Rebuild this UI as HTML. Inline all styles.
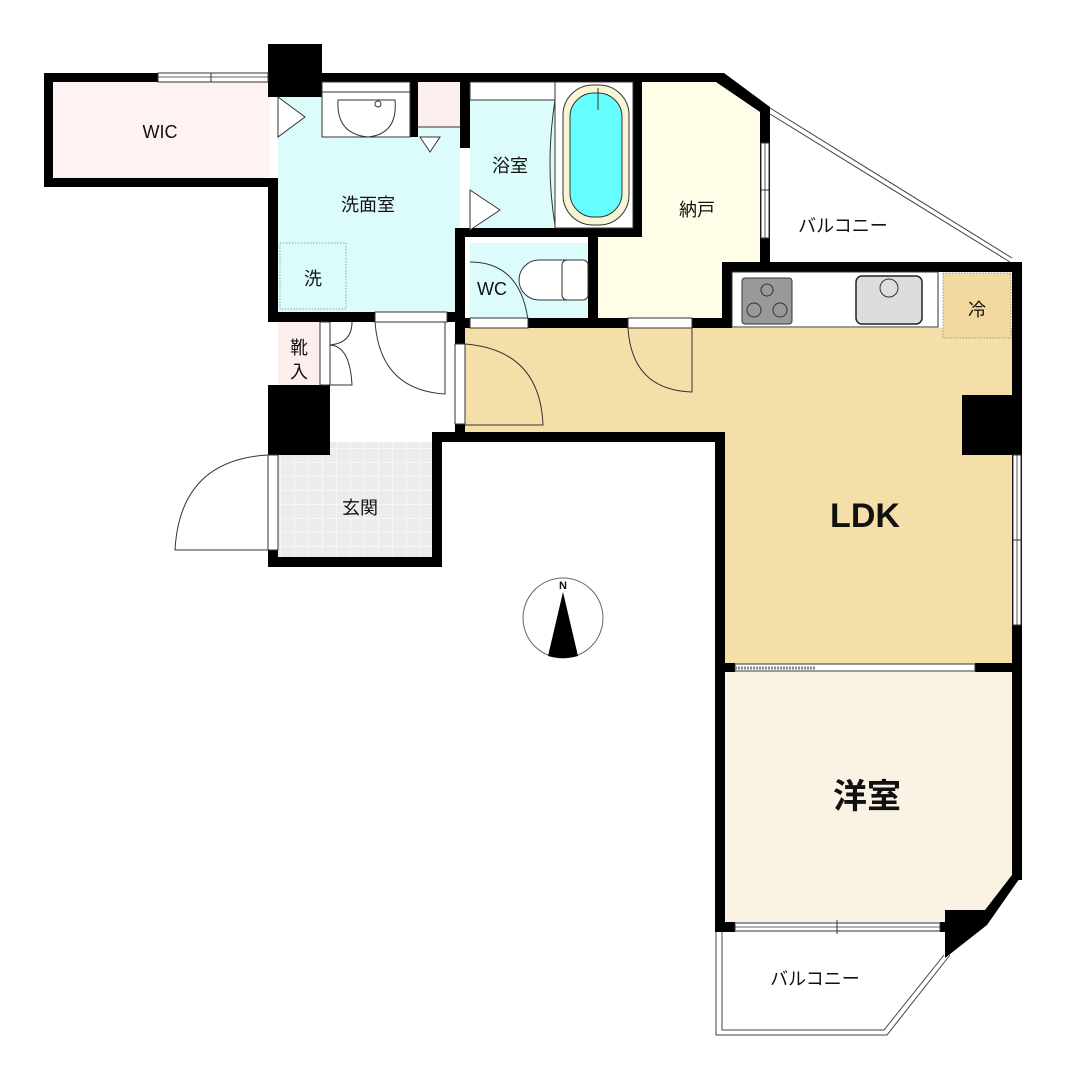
<!DOCTYPE html>
<html><head><meta charset="utf-8"><style>
html,body{margin:0;padding:0;background:#fff}
svg{display:block}
text{font-family:"Liberation Sans","Noto Sans CJK JP",sans-serif;fill:#111}
</style></head><body>
<svg width="1074" height="1083" viewBox="0 0 1074 1083" xmlns="http://www.w3.org/2000/svg">
<defs>
<pattern id="tile" width="14" height="14" patternUnits="userSpaceOnUse">
<rect width="14" height="14" fill="#ececec"/><path d="M0 0H14M0 0V14" stroke="#fff" stroke-width="1"/>
</pattern>
</defs>
<!-- fills -->
<rect x="53" y="82" width="217" height="96" fill="#fff2f2"/>
<rect x="278" y="97" width="182" height="217" fill="#dcfcfc"/>
<rect x="418" y="82" width="42" height="45" fill="#fdeeee"/>
<rect x="470" y="100" width="85" height="130" fill="#dcfcfc"/>
<rect x="470" y="243" width="118" height="77" fill="#dcfcfc"/>
<path d="M642 82H720L760 112V318H598V237H642Z" fill="#fffde8"/>
<path d="M465 328H1012V665H725V432H465Z" fill="#f5dfa8"/>
<path d="M725 672H1012V878L975 922H725Z" fill="#faf3e3"/>
<rect x="278" y="322" width="42" height="63" fill="#fdeeee"/>
<rect x="278" y="442" width="154" height="115" fill="url(#tile)"/>
<rect x="280" y="243" width="66" height="66" fill="none" stroke="#8aa" stroke-dasharray="1.5 1.5"/>
<!-- walls -->
<g fill="#000">
<rect x="44" y="73" width="234" height="9"/>
<rect x="44" y="73" width="9" height="114"/>
<rect x="44" y="178" width="234" height="9"/>
<rect x="268" y="44" width="54" height="53"/>
<rect x="322" y="73" width="398" height="9"/>
<path d="M716 73H724L770 107V262H760V112L716 82Z"/>
<rect x="268" y="178" width="10" height="142"/>
<rect x="268" y="312" width="195" height="10"/>
<rect x="460" y="82" width="10" height="66"/>
<rect x="410" y="82" width="8" height="55"/>
<rect x="455" y="228" width="187" height="9"/>
<rect x="633" y="82" width="9" height="155"/>
<rect x="455" y="228" width="10" height="212"/>
<rect x="588" y="237" width="10" height="85"/>
<rect x="455" y="318" width="275" height="10"/>
<rect x="722" y="262" width="300" height="10"/>
<rect x="722" y="262" width="10" height="66"/>
<rect x="1012" y="262" width="10" height="618"/>
<rect x="962" y="395" width="60" height="60"/>
<rect x="268" y="385" width="62" height="70"/>
<rect x="268" y="455" width="10" height="112"/>
<rect x="268" y="557" width="174" height="10"/>
<rect x="432" y="432" width="10" height="135"/>
<rect x="440" y="432" width="285" height="10"/>
<rect x="715" y="432" width="10" height="500"/>
<rect x="725" y="663" width="10" height="9"/>
<rect x="975" y="663" width="47" height="9"/>
<path d="M1012 875H1022L987 925L945 958V910H985Z"/>
<rect x="715" y="922" width="20" height="10"/>
<rect x="940" y="922" width="10" height="10"/>
</g>
<!-- windows -->
<g fill="#fff" stroke="#333" stroke-width="1">
<rect x="158" y="73" width="110" height="9"/>
<rect x="761" y="143" width="8" height="95"/>
<rect x="1013" y="455" width="8" height="170"/>
<rect x="735" y="923" width="205" height="8"/>
<rect x="735" y="664" width="240" height="7"/>
</g>
<path d="M158 77H268M765 143V238M1017 455V625M735 927H940" stroke="#333" stroke-width="0.8"/>
<path d="M211 73V82M761 190H769M1013 540H1021M837 920V934" stroke="#333"/>
<path d="M735 668H815" stroke="#888" stroke-dasharray="2 1" stroke-width="3"/>
<!-- balconies -->
<path d="M770 108L1012 258M770 114L1010 262" stroke="#444" fill="none"/>
<path d="M716 932V1035H887L950 955M722 932V1030H884L944 955" stroke="#444" fill="none"/>
<!-- doors & fixtures -->
<g fill="none" stroke="#333" stroke-width="1">
<path d="M278 97L305 117L278 137Z" fill="#fff"/>
<path d="M470 190L500 210L470 230Z" fill="#fff"/>
<path d="M418 127H460M420 137L430 152L440 137Z" fill="#fff"/>
<rect x="322" y="82" width="88" height="55" fill="#fff"/>
<path d="M322 92H410"/>
<path d="M338 100Q336 134 368 137Q398 134 395 100Z" fill="#fff"/>
<circle cx="378" cy="104" r="3"/>
<rect x="555" y="82" width="78" height="146" fill="#fff"/>
<rect x="563" y="85" width="66" height="140" rx="30" fill="#f8f5d5"/>
<rect x="570" y="93" width="52" height="124" rx="24" fill="#6ff"/>
<path d="M598 88V110M555 100Q545 165 555 225"/>
<rect x="470" y="82" width="85" height="18" fill="#fff"/>
<rect x="519" y="260" width="69" height="40" rx="20" fill="#fff"/>
<rect x="562" y="260" width="26" height="40" rx="5" fill="#fff"/>
<path d="M470 262Q520 262 528 320H470"/>
<rect x="470" y="318" width="58" height="10" fill="#fff"/>
<rect x="628" y="318" width="64" height="10" fill="#fff"/>
<path d="M628 328Q632 390 692 392V328"/>
<rect x="455" y="344" width="10" height="80" fill="#fff"/>
<path d="M465 344Q540 350 543 425H465"/>
<rect x="375" y="312" width="72" height="10" fill="#fff"/>
<path d="M375 322Q380 390 445 394V322"/>
<rect x="320" y="322" width="10" height="63" fill="#fff"/>
<path d="M330 322H320M330 345Q352 343 352 322M330 345Q350 346 352 385H330"/>
<rect x="268" y="455" width="10" height="95" fill="#fff"/>
<path d="M268 455Q180 460 175 550H268"/>
<rect x="732" y="272" width="206" height="55" fill="#fff"/>
<rect x="742" y="278" width="50" height="46" rx="3" fill="#999"/>
<circle cx="754" cy="310" r="7"/><circle cx="780" cy="310" r="7"/><circle cx="767" cy="290" r="6"/>
<rect x="856" y="276" width="66" height="48" rx="6" fill="#ddd" stroke="#222" stroke-width="1.5"/>
<circle cx="889" cy="288" r="9" fill="#ddd"/>
<rect x="943" y="273" width="68" height="65" fill="#f1d9a0" stroke="#999" stroke-dasharray="1.5 1.5"/>
</g>
<!-- compass -->
<circle cx="563" cy="618" r="40" fill="#fff" stroke="#666"/>
<path d="M563 592L548 656Q563 660 578 656Z" fill="#000"/>
<text x="563" y="589" font-size="11" text-anchor="middle" font-family="Liberation Serif" font-weight="bold">N</text>
<!-- labels -->
<g font-size="18" text-anchor="middle">
<text x="160" y="138">WIC</text>
<text x="368" y="211">洗面室</text>
<text x="510" y="172">浴室</text>
<text x="313" y="285">洗</text>
<text x="492" y="295">WC</text>
<text x="697" y="216">納戸</text>
<text x="843" y="232">バルコニー</text>
<text x="299" y="354">靴</text>
<text x="299" y="378">入</text>
<text x="360" y="514">玄関</text>
<text x="977" y="316">冷</text>
<text x="815" y="985">バルコニー</text>
</g>
<text x="865" y="527" font-size="34" text-anchor="middle" font-weight="bold">LDK</text>
<text x="867" y="808" font-size="34" text-anchor="middle" font-weight="bold">洋室</text>
</svg>
</body></html>
